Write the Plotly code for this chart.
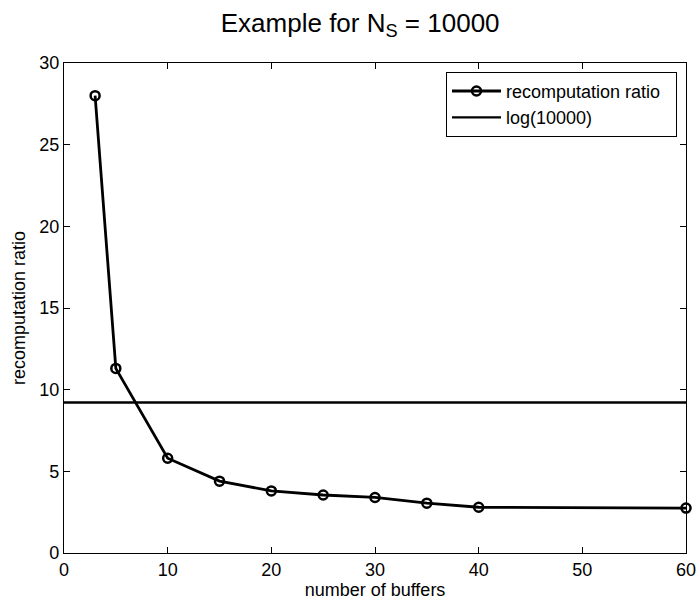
import plotly.graph_objects as go

buffers = [3, 5, 10, 15, 20, 25, 30, 35, 40, 60]
ratio = [28.0, 11.3, 5.8, 4.4, 3.8, 3.55, 3.4, 3.05, 2.8, 2.75]
log_label = "log(10000)"
log_value = 9.21
x_line = [0, 60]

FONT = "Liberation Sans, Arial, sans-serif"
PAD = "\u00a0" * 2

fig = go.Figure()
fig.add_trace(go.Scatter(
    x=buffers, y=ratio, mode="lines+markers", name="recomputation ratio" + PAD,
    line=dict(color="black", width=2.8),
    marker=dict(symbol="circle-open", size=9, color="black", line=dict(width=2.5)),
    cliponaxis=False,
))
fig.add_trace(go.Scatter(
    x=x_line, y=[log_value, log_value], mode="lines", name=log_label,
    line=dict(color="black", width=2.4),
))

axis_common = dict(
    showgrid=False, zeroline=False, showline=True, linecolor="black", linewidth=1.2,
    mirror="ticks", ticks="inside", ticklen=6, tickcolor="black", automargin=False,
    tickfont=dict(family=FONT, size=18, color="black"),
)
fig.update_layout(
    width=698, height=601,
    margin=dict(l=64, r=12, t=63, b=48),
    paper_bgcolor="white", plot_bgcolor="white",
    title=dict(text="Example for N<sub>S</sub> = 10000", x=0.516, xanchor="center",
               y=0.962, yanchor="middle",
               font=dict(family=FONT, size=26, color="black")),
    xaxis=dict(range=[0, 60], dtick=10,
               title=dict(text="number of buffers", standoff=2,
                          font=dict(family=FONT, size=18, color="black")),
               **axis_common),
    yaxis=dict(range=[0, 30], dtick=5,
               title=dict(text="recomputation ratio", standoff=8,
                          font=dict(family=FONT, size=18, color="black")),
               **axis_common),
    legend=dict(x=0.9855, y=0.982, xanchor="right", yanchor="top",
                bgcolor="white", bordercolor="black", borderwidth=1,
                font=dict(family=FONT, size=18, color="black"),
                tracegroupgap=0, itemwidth=49),
    showlegend=True,
)
fig.write_html("out.html", post_script="document.body.style.margin='0';",
               config={"displayModeBar": False})
